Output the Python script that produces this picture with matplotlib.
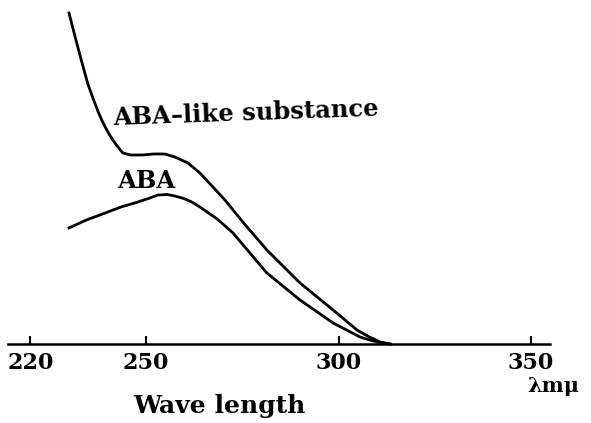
import matplotlib.pyplot as plt

# absorption spectra (relative absorbance, arbitrary units)
wl_like = [230, 231.4, 232.9, 234.9, 236.3, 237.5, 238.5, 239.4, 240.4, 241.4, 242.7,
           244.0, 246.0, 249.0, 252.0, 254.9, 257.5, 260.9, 264.0, 270.5, 275.8,
           281.4, 290.0, 298.6, 304.8, 308.0, 310.8, 313.4]
abs_like = [3.31, 3.10, 2.88, 2.60, 2.45, 2.33, 2.24, 2.17, 2.10, 2.04, 1.97,
            1.91, 1.89, 1.89, 1.90, 1.90, 1.87, 1.81, 1.71, 1.44, 1.19,
            0.94, 0.61, 0.34, 0.14, 0.07, 0.02, 0.0]

wl_aba = [230, 234.5, 239.4, 243.5, 247.9, 251.0, 253.1, 255.5, 257.5, 259.8,
          261.9, 264.0, 268.5, 272.6, 281.4, 290.0, 298.6, 305.6, 308.5, 310.8, 313.4]
abs_aba = [1.16, 1.24, 1.31, 1.37, 1.42, 1.46, 1.49, 1.495, 1.48, 1.455,
           1.42, 1.37, 1.25, 1.11, 0.71, 0.44, 0.21, 0.07, 0.035, 0.015, 0.0]

ticks = [220, 250, 300, 350]

fig = plt.figure(figsize=(5.91, 4.23), dpi=100)
ax = fig.add_axes([0, 0, 1, 1])

ax.plot(wl_like, abs_like, color="black", lw=2.0, solid_joinstyle="round")
ax.plot(wl_aba, abs_aba, color="black", lw=2.0, solid_joinstyle="round")

ax.set_xlim(212.08, 365.58)
ax.set_ylim(-0.79, 3.44)

for s in ["top", "left", "right"]:
    ax.spines[s].set_visible(False)
ax.spines["bottom"].set_position(("data", 0))
ax.spines["bottom"].set_bounds(214.2, 354.9)
ax.spines["bottom"].set_linewidth(1.8)
ax.set_yticks([])
ax.set_xticks(ticks)
ax.tick_params(axis="x", direction="in", length=6, width=1.5, pad=6)
for lab in ax.get_xticklabels():
    lab.set_fontfamily("DejaVu Serif")
    lab.set_fontweight("bold")
    lab.set_fontsize(16)

fnt = dict(family="DejaVu Serif", weight="bold", color="black")
ax.text(241.4, 2.19, "ABA\u2013like substance", fontsize=17.5, va="baseline", ha="left",
        rotation=2, rotation_mode="anchor", **fnt)
ax.text(242.5, 1.56, "ABA", fontsize=17.5, va="baseline", ha="left", **fnt)
ax.text(246.6, -0.69, "Wave length", fontsize=18, va="baseline", ha="left", **fnt)
ax.text(349, -0.48, "\u03bbm\u03bc", fontsize=15, va="baseline", ha="left", **fnt)

fig.savefig("out.png", dpi=100)
